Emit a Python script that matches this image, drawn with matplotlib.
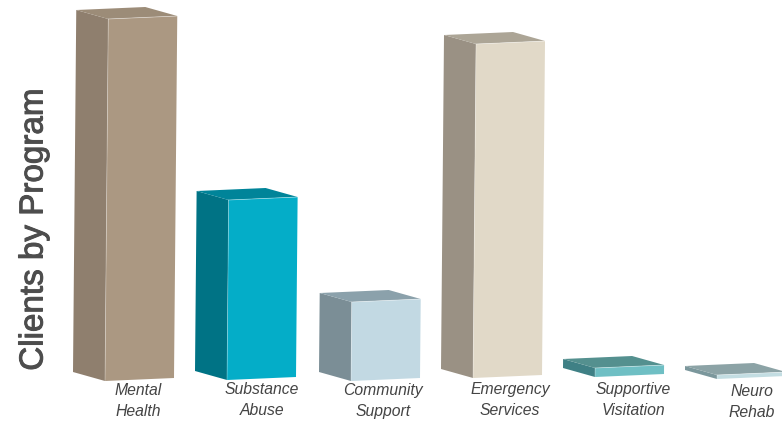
import matplotlib.pyplot as plt
import matplotlib.patheffects as pe
from matplotlib.patches import Polygon

plt.rcParams['font.family'] = ['Liberation Sans', 'DejaVu Sans']

programs = ['Mental\nHealth', 'Substance\nAbuse', 'Community\nSupport',
            'Emergency\nServices', 'Supportive\nVisitation', 'Neuro\nRehab']
clients = [362, 180, 79, 334, 9, 4]

# layout, in pixels of the original picture
base_x = [105, 227, 351, 473, 595, 717]
base_y = [381, 380, 381, 378, 377, 379]
label_x = [138, 262, 383, 510, 633, 752]
label_y = [401, 400, 401, 400, 400, 402]
bar_w = 69
side_dx = -32
side_dy = -9
slope = -3
lean = 0.009

front_cols = ['#ab9882', '#04adc8', '#c2d9e3', '#e1d9c8', '#6fbfc4', '#c3dde2']
side_cols = ['#8f7f6e', '#007385', '#7b8e96', '#9a9184', '#3f8085', '#7b979c']
top_cols = ['#9c8c78', '#008499', '#8ba1ab', '#aca596', '#54908f', '#8ca3a6']

fig = plt.figure(figsize=(7.82, 4.22), dpi=100)
ax = fig.add_axes([0, 0, 1, 1])
ax.set_xlim(0, 782)
ax.set_ylim(422, 0)
ax.axis('off')

for i in range(len(clients)):
    x, y, h = base_x[i], base_y[i], clients[i]
    dx = h * lean
    # corners of the front face
    fl_b = (x, y)
    fr_b = (x + bar_w, y + slope)
    fl_t = (x + dx, y - h)
    fr_t = (x + bar_w + dx, y + slope - h)
    # corners pushed back to the left
    sl_b = (x + side_dx, y + side_dy)
    sl_t = (x + dx + side_dx, y - h + side_dy)
    back = (x + dx + bar_w + side_dx, y - h + side_dy + slope)

    ax.add_patch(Polygon([sl_b, fl_b, fl_t, sl_t], fc=side_cols[i], ec='none'))
    ax.add_patch(Polygon([sl_t, fl_t, fr_t, back], fc=top_cols[i], ec='none'))
    ax.add_patch(Polygon([fl_b, fr_b, fr_t, fl_t], fc=front_cols[i], ec='none'))
    ax.plot([fl_t[0], fr_t[0]], [fl_t[1], fr_t[1]], color='white', lw=0.5, alpha=0.5)
    ax.plot([fl_t[0], fl_b[0]], [fl_t[1], fl_b[1]], color='white', lw=0.5, alpha=0.4)

    ax.text(label_x[i], label_y[i], programs[i], ha='center', va='center',
            style='italic', fontsize=11.3, color='#444444', linespacing=1.45)

title = ax.text(34, 230, 'Clients by Program', rotation=90, ha='center', va='center',
                fontsize=23.9, color='#4d4d4d')
# the original lettering is a bit heavier than the regular weight
title.set_path_effects([pe.withStroke(linewidth=0.7, foreground='#4d4d4d')])

fig.savefig('out.png', dpi=100)
